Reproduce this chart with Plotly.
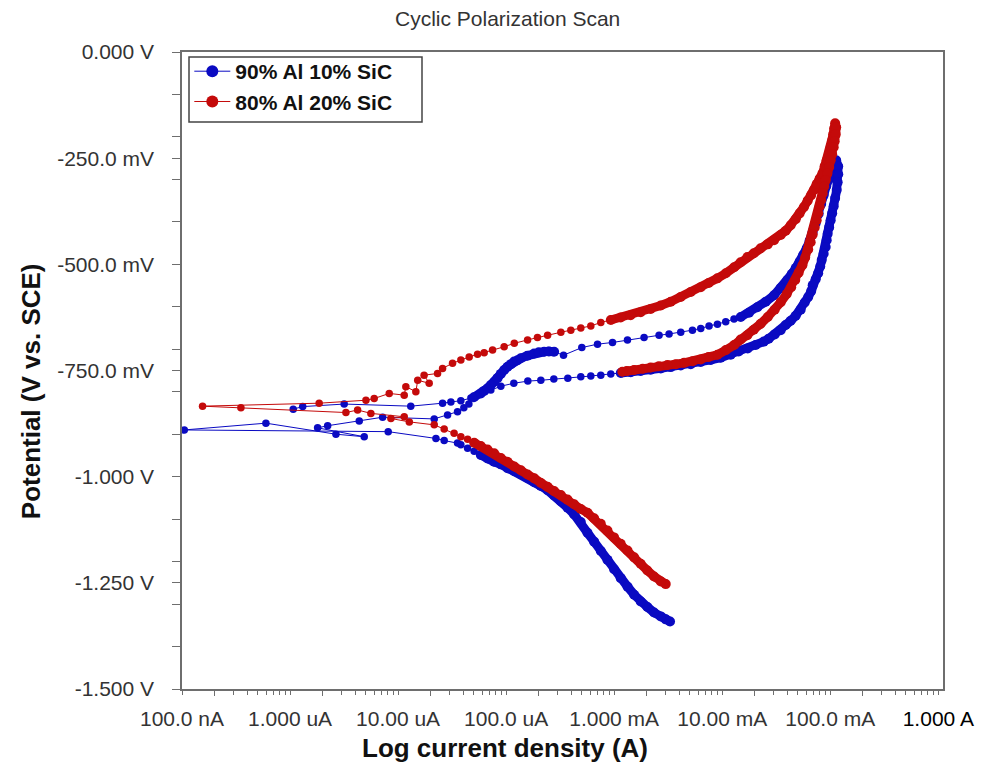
import plotly.graph_objects as go

# ---------------- data (current in A, potential in V vs. SCE) ----------------
blue_name = "90% Al 10% SiC"
blue_current = [
    3.29e-3, 3.00e-3, 2.70e-3, 2.34e-3, 2.03e-3, 1.76e-3, 1.53e-3, 1.33e-3, 1.15e-3, 9.98e-4,
    8.67e-4, 7.52e-4, 6.52e-4, 5.66e-4, 4.91e-4, 4.26e-4, 3.70e-4, 3.21e-4, 2.78e-4, 2.42e-4,
    2.09e-4, 1.82e-4, 1.58e-4, 1.37e-4, 1.19e-4, 1.03e-4, 8.93e-5, 7.74e-5, 6.73e-5, 5.83e-5,
    5.06e-5, 4.40e-5, 3.81e-5, 3.55e-5, 2.67e-5, 2.24e-5,
    8.10e-6, 1.05e-7, 5.98e-7, 2.66e-6, 4.86e-6, 1.80e-6, 2.23e-6, 4.37e-6, 7.19e-6, 2.16e-5,
    2.87e-5, 3.55e-5, 4.06e-5, 4.52e-5, 5.03e-5, 5.83e-5,
    6.26e-5, 6.73e-5, 7.22e-5, 7.75e-5, 8.33e-5, 8.93e-5, 9.59e-5, 1.03e-4, 1.106e-4, 1.186e-4,
    1.275e-4, 1.368e-4, 1.578e-4, 1.816e-4, 2.007e-4, 2.247e-4, 2.484e-4, 2.781e-4, 3.397e-4, 5.018e-4,
    7.01e-4, 9.65e-4, 1.328e-3, 1.891e-3, 2.603e-3, 3.221e-3, 4.132e-3, 5.303e-3, 6.329e-3, 7.553e-3,
    9.03e-3, 1.078e-2, 1.286e-2, 1.484e-2, 1.771e-2, 2.117e-2, 2.527e-2, 3.016e-2, 3.477e-2, 4.012e-2,
    4.396e-2, 4.787e-2, 5.213e-2, 5.616e-2, 6.053e-2, 6.451e-2, 6.877e-2, 7.33e-2, 7.815e-2, 8.241e-2,
    8.69e-2, 9.17e-2, 9.67e-2, 1.020e-1, 1.076e-1, 1.134e-1,
    1.184e-1, 1.186e-1, 1.171e-1, 1.147e-1, 1.110e-1, 1.076e-1, 1.042e-1, 1.009e-1, 9.77e-2, 9.465e-2,
    9.267e-2, 9.071e-2, 8.69e-2, 8.331e-2, 8.07e-2, 7.734e-2, 7.33e-2, 6.877e-2, 6.661e-2, 6.249e-2,
    5.80e-2, 5.326e-2, 4.787e-2, 4.303e-2, 3.869e-2, 3.477e-2, 3.061e-2, 2.694e-2, 2.422e-2, 2.042e-2,
    1.722e-2, 1.421e-2, 1.199e-2, 9.69e-3, 7.83e-3, 6.329e-3, 5.115e-3, 4.132e-3, 3.339e-3, 2.699e-3,
    2.181e-3, 1.763e-3, 1.424e-3, 1.151e-3, 9.305e-4, 7.52e-4, 6.078e-4, 4.911e-4, 3.723e-4, 2.763e-4,
    2.095e-4, 1.588e-4, 1.178e-4, 8.935e-5, 7.22e-5, 5.83e-5, 4.72e-5, 3.81e-5, 3.08e-5, 2.58e-5,
    1.31e-5, 3.17e-6, 1.31e-6, 1.07e-6,
]
blue_potential = [
    -1.341, -1.336, -1.329, -1.320, -1.307, -1.294, -1.278, -1.259, -1.239, -1.218,
    -1.196, -1.175, -1.153, -1.132, -1.107, -1.089, -1.073, -1.058, -1.044, -1.032,
    -1.022, -1.013, -1.003, -0.994, -0.987, -0.980, -0.971, -0.965, -0.957, -0.949,
    -0.940, -0.933, -0.925, -0.921, -0.915, -0.910,
    -0.894, -0.890, -0.874, -0.900, -0.906, -0.885, -0.880, -0.869, -0.860, -0.864,
    -0.855, -0.847, -0.838, -0.829, -0.813, -0.804,
    -0.798, -0.792, -0.784, -0.777, -0.768, -0.758, -0.749, -0.741, -0.735, -0.729,
    -0.726, -0.721, -0.715, -0.710, -0.707, -0.706, -0.705, -0.706, -0.714, -0.696,
    -0.688, -0.684, -0.678, -0.672, -0.667, -0.664, -0.660, -0.655, -0.651, -0.645,
    -0.641, -0.635, -0.629, -0.624, -0.614, -0.601, -0.588, -0.573, -0.556, -0.537,
    -0.523, -0.509, -0.494, -0.478, -0.462, -0.444, -0.424, -0.403, -0.381, -0.358,
    -0.337, -0.316, -0.297, -0.281, -0.267, -0.255,
    -0.269, -0.288, -0.307, -0.325, -0.344, -0.363, -0.380, -0.396, -0.413, -0.428,
    -0.443, -0.459, -0.475, -0.490, -0.505, -0.521, -0.535, -0.549, -0.563, -0.577,
    -0.590, -0.607, -0.621, -0.633, -0.643, -0.655, -0.665, -0.675, -0.682, -0.690,
    -0.698, -0.705, -0.713, -0.720, -0.725, -0.730, -0.735, -0.738, -0.742, -0.745,
    -0.748, -0.751, -0.754, -0.756, -0.758, -0.761, -0.763, -0.765, -0.768, -0.770,
    -0.773, -0.775, -0.780, -0.787, -0.796, -0.805, -0.815, -0.821, -0.824, -0.827,
    -0.834, -0.829, -0.835, -0.841,
]

red_name = "80% Al 20% SiC"
red_current = [
    3.00e-3, 2.70e-3, 2.34e-3, 2.03e-3, 1.76e-3, 1.53e-3, 1.33e-3, 1.15e-3, 9.98e-4, 8.67e-4,
    7.52e-4, 6.52e-4, 5.67e-4, 4.91e-4, 4.26e-4, 3.70e-4, 3.21e-4, 2.78e-4, 2.42e-4, 2.10e-4,
    1.82e-4, 1.58e-4, 1.37e-4, 1.19e-4, 1.03e-4, 8.94e-5, 7.75e-5, 6.73e-5, 5.83e-5, 5.06e-5,
    4.40e-5, 3.81e-5, 3.30e-5, 2.67e-5, 2.16e-5,
    1.27e-5, 8.58e-6, 1.14e-5, 5.60e-6, 4.22e-6, 3.29e-6, 3.51e-7, 1.55e-7, 1.86e-6, 5.04e-6,
    6.01e-6, 8.28e-6, 1.14e-5, 1.18e-5, 1.46e-5, 1.52e-5, 1.94e-5, 1.74e-5, 2.32e-5, 2.58e-5,
    3.19e-5, 3.81e-5, 4.55e-5, 5.44e-5, 6.26e-5, 7.49e-5,
    9.59e-5, 1.19e-4, 1.58e-4, 1.95e-4, 2.42e-4, 3.21e-4, 3.97e-4, 4.91e-4, 6.08e-4, 7.52e-4,
    9.31e-4, 1.15e-3, 1.42e-3, 1.76e-3, 2.18e-3, 2.70e-3, 3.34e-3, 4.13e-3, 5.12e-3, 6.33e-3,
    7.50e-3, 9.03e-3, 1.08e-2, 1.29e-2, 1.48e-2, 1.71e-2, 1.96e-2, 2.27e-2, 2.64e-2, 3.02e-2,
    3.48e-2, 3.87e-2, 4.30e-2, 4.79e-2, 5.21e-2, 5.71e-2, 6.18e-2, 6.66e-2, 7.07e-2, 7.49e-2,
    7.98e-2, 8.46e-2, 8.88e-2, 9.27e-2, 9.73e-2, 1.009e-1, 1.046e-1, 1.064e-1, 1.087e-1, 1.110e-1,
    1.134e-1, 1.123e-1, 1.099e-1, 1.076e-1, 1.042e-1, 1.009e-1, 9.77e-2, 9.41e-2, 9.07e-2, 8.79e-2,
    8.51e-2, 8.24e-2, 7.98e-2, 7.73e-2, 7.49e-2, 7.18e-2, 6.88e-2, 6.59e-2, 6.25e-2, 5.86e-2,
    5.52e-2, 5.10e-2, 4.74e-2, 4.35e-2, 3.95e-2, 3.48e-2, 3.06e-2, 2.64e-2, 2.27e-2, 1.96e-2,
    1.71e-2, 1.48e-2, 1.29e-2, 1.08e-2, 9.03e-3, 7.50e-3, 6.33e-3, 5.34e-3, 4.44e-3, 3.72e-3,
    3.11e-3, 2.59e-3, 2.18e-3, 1.84e-3, 1.53e-3, 1.31e-3, 1.19e-3,
]
red_potential = [
    -1.253, -1.247, -1.235, -1.221, -1.205, -1.190, -1.174, -1.158, -1.143, -1.127,
    -1.111, -1.098, -1.085, -1.076, -1.065, -1.054, -1.043, -1.034, -1.024, -1.015,
    -1.004, -0.995, -0.985, -0.976, -0.965, -0.956, -0.945, -0.936, -0.928, -0.920,
    -0.912, -0.906, -0.898, -0.888, -0.878,
    -0.871, -0.863, -0.859, -0.851, -0.843, -0.849, -0.838, -0.834, -0.827, -0.820,
    -0.816, -0.804, -0.808, -0.788, -0.800, -0.773, -0.780, -0.761, -0.757, -0.745,
    -0.733, -0.725, -0.718, -0.712, -0.708, -0.702,
    -0.694, -0.686, -0.678, -0.672, -0.667, -0.660, -0.655, -0.650, -0.645, -0.637,
    -0.631, -0.625, -0.620, -0.613, -0.605, -0.597, -0.588, -0.577, -0.565, -0.554,
    -0.544, -0.533, -0.521, -0.507, -0.495, -0.483, -0.474, -0.462, -0.453, -0.443,
    -0.431, -0.421, -0.408, -0.394, -0.380, -0.365, -0.350, -0.337, -0.325, -0.311,
    -0.298, -0.286, -0.269, -0.255, -0.239, -0.224, -0.208, -0.194, -0.180, -0.168,
    -0.177, -0.194, -0.210, -0.224, -0.241, -0.255, -0.271, -0.286, -0.302, -0.317,
    -0.333, -0.349, -0.364, -0.380, -0.396, -0.413, -0.430, -0.448, -0.465, -0.484,
    -0.502, -0.520, -0.537, -0.554, -0.570, -0.589, -0.607, -0.624, -0.640, -0.654,
    -0.667, -0.677, -0.690, -0.702, -0.713, -0.718, -0.724, -0.728, -0.732, -0.735,
    -0.737, -0.740, -0.743, -0.746, -0.749, -0.751, -0.753,
]

# index ranges (start, stop) where the recorded points are so close they merge into a band
blue_dense_runs = [(0, 30), (50, 70), (85, 152)]
red_dense_runs = [(0, 30), (71, 158)]

# ---------------- axis ticks ----------------
x_tick_vals = [1e-7, 1e-6, 1e-5, 1e-4, 1e-3, 1e-2, 1e-1, 1e0]
x_tick_text = ["100.0 nA", "1.000 uA", "10.00 uA", "100.0 uA", "1.000 mA",
               "10.00 mA", "100.0 mA", "<span style='color:#000000'>1.000 A</span>"]
x_long_ticks = [2e-7, 2e-6, 2e-5, 2e-4, 2e-3, 2e-2, 2e-1]
x_minor_ticks = [k * d for d in [1e-7, 1e-6, 1e-5, 1e-4, 1e-3, 1e-2, 1e-1] for k in range(3, 10)]
y_tick_vals = [0.0, -0.25, -0.5, -0.75, -1.0, -1.25, -1.5]
y_tick_text = ["0.000 V", "-250.0 mV", "-500.0 mV", "-750.0 mV", "-1.000 V", "-1.250 V", "-1.500 V"]
y_minor_ticks = [-0.1, -0.2, -0.3, -0.4, -0.6, -0.7, -0.8, -0.9, -1.1, -1.2, -1.3, -1.4]

BLUE = "#0a0ac2"
RED = "#c40a0a"
FONT = "Liberation Sans, Arial, sans-serif"
TEXT = "#333333"
AXIS = "#6e6e6e"
x_range = [-7, 0.0435]

series = [(blue_name, blue_current, blue_potential, BLUE, blue_dense_runs),
          (red_name, red_current, red_potential, RED, red_dense_runs)]

fig = go.Figure()
for name, xs, ys, col, runs in series:
    fig.add_trace(go.Scatter(
        x=xs, y=ys, name=name, mode="lines+markers", legendgroup=name, showlegend=False,
        line=dict(color=col, width=1),
        marker=dict(color=col, size=7.5, line=dict(width=0)),
    ))
    for a, b in runs:
        fig.add_trace(go.Scatter(
            x=xs[a:b], y=ys[a:b], mode="lines+markers", legendgroup=name, showlegend=False,
            line=dict(color=col, width=9),
            marker=dict(color=col, size=10, line=dict(width=0)),
            hoverinfo="skip",
        ))
# legend entries (thin line with a large dot, as in the original key)
for name, xs, ys, col, runs in series:
    fig.add_trace(go.Scatter(
        x=[None], y=[None], name=name, mode="lines+markers", legendgroup=name,
        line=dict(color=col, width=1),
        marker=dict(color=col, size=12, line=dict(width=0)),
    ))
# empty trace so that the overlay axis carrying the long ticks is drawn
fig.add_trace(go.Scatter(x=[], y=[], xaxis="x2", showlegend=False, hoverinfo="skip"))

fig.update_layout(
    width=986, height=766,
    margin=dict(l=182, r=43, t=52, b=77),
    paper_bgcolor="white", plot_bgcolor="white",
    font=dict(family=FONT, size=21, color=TEXT),
    showlegend=True,
    legend=dict(
        x=0.0096, y=1.0015, xanchor="left", yanchor="top",
        bgcolor="rgba(0,0,0,0)", borderwidth=0,
        font=dict(family=FONT, size=21, color="#111111", weight="bold"),
        tracegroupgap=0, itemwidth=36,
    ),
    shapes=[
        dict(type="rect", xref="paper", yref="paper",
             x0=(189 - 182) / 761, x1=(422 - 182) / 761,
             y0=1 - (122 - 52) / 637, y1=1 - (57 - 52) / 637,
             line=dict(color="#444444", width=1.5), fillcolor="white", layer="below"),
    ],
    xaxis=dict(
        type="log", range=x_range,
        tickmode="array", tickvals=x_tick_vals, ticktext=x_tick_text,
        ticks="outside", ticklen=4, tickwidth=1.2, tickcolor=AXIS,
        minor=dict(tickmode="array", tickvals=x_minor_ticks, ticks="outside",
                   ticklen=4, tickwidth=1.2, tickcolor=AXIS, showgrid=False),
        showline=True, linecolor=AXIS, linewidth=1.5, mirror=True,
        showgrid=False, zeroline=False,
        tickfont=dict(family=FONT, size=21, color=TEXT),
        ticklabelstandoff=6,
    ),
    xaxis2=dict(
        type="log", range=x_range, overlaying="x", anchor="y", side="bottom",
        tickmode="array", tickvals=x_long_ticks, ticks="outside", ticklen=6,
        tickwidth=1.2, tickcolor=AXIS, showticklabels=False,
        showline=False, showgrid=False, zeroline=False,
    ),
    yaxis=dict(
        range=[-1.5, 0.0],
        tickmode="array", tickvals=y_tick_vals, ticktext=y_tick_text,
        ticks="outside", ticklen=8, tickwidth=1.2, tickcolor=AXIS,
        minor=dict(tickmode="array", tickvals=y_minor_ticks, ticks="outside",
                   ticklen=8, tickwidth=1.2, tickcolor=AXIS, showgrid=False),
        showline=True, linecolor=AXIS, linewidth=1.5, mirror=True,
        showgrid=False, zeroline=False,
        tickfont=dict(family=FONT, size=21, color=TEXT),
        ticklabelstandoff=14,
    ),
    annotations=[
        dict(text="Cyclic Polarization Scan", xref="paper", yref="paper",
             x=0.4275, y=1.0529, xanchor="center", yanchor="middle", showarrow=False,
             font=dict(family=FONT, size=21, color=TEXT)),
        dict(text="Log current density (A)", xref="paper", yref="paper",
             x=0.4248, y=-0.092, xanchor="center", yanchor="middle", showarrow=False,
             font=dict(family=FONT, size=26, color="#111111", weight="bold")),
        dict(text="Potential (V vs. SCE)", xref="paper", yref="paper",
             x=-0.198, y=0.468, xanchor="center", yanchor="middle", showarrow=False,
             textangle=-90,
             font=dict(family=FONT, size=26, color="#111111", weight="bold")),
    ],
)

fig.write_html("out.html")
